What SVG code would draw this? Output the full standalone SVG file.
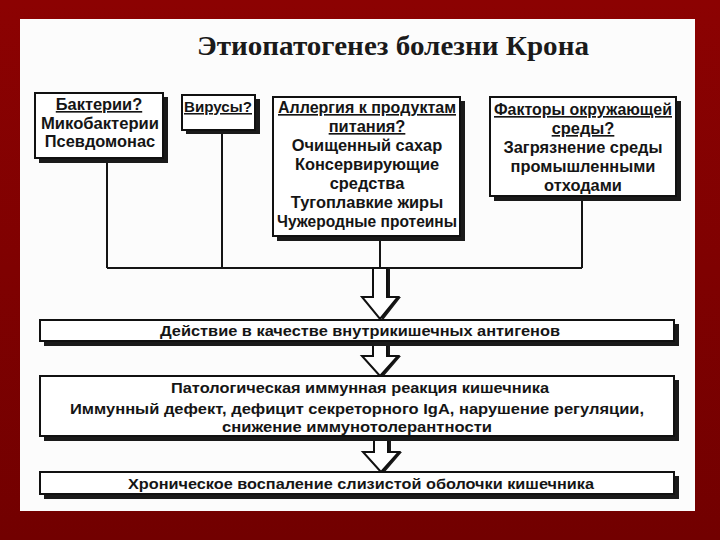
<svg xmlns="http://www.w3.org/2000/svg" width="720" height="540" viewBox="0 0 720 540">
<defs>
<linearGradient id="bg" x1="0" y1="0" x2="0" y2="1">
<stop offset="0" stop-color="#8c0202"/>
<stop offset="1" stop-color="#720000"/>
</linearGradient>
<style>
.box{fill:#fff;stroke:#111;stroke-width:2}
.sh{fill:#1a1a1a}
.t{font-family:"Liberation Sans",Arial,sans-serif;font-weight:bold;font-size:15.5px;fill:#151515;text-anchor:middle}
.b{font-size:16.4px}
.u{text-decoration:underline}
.ln{stroke:#151515;stroke-width:2;fill:none}
.title{font-family:"Liberation Serif","Times New Roman",serif;font-weight:bold;font-size:27px;fill:#1a1a1a;text-anchor:middle}
</style>
</defs>
<rect x="0" y="0" width="720" height="540" fill="url(#bg)"/>
<rect x="20" y="19" width="675" height="492" fill="#fcfcfc"/>
<text class="title" x="393" y="55" textLength="392" lengthAdjust="spacingAndGlyphs">Этиопатогенез болезни Крона</text>

<g id="connectors">
<path class="ln" d="M107 158V268M222 130V268M380 236V268M582 196V268M107 268H582"/>
<g id="arrow1">
<path class="sh" d="M376 268h14v29h11l-18 23l-18 -23h11z"/>
<path d="M373 268h14v29h11l-18 22l-18 -22h11z" fill="#fff" stroke="#111" stroke-width="2"/>
</g>
<g id="arrow2">
<path class="sh" d="M376 343h14v13h11l-18 21l-18 -21h11z"/>
<path d="M373 343h14v13h11l-18 20l-18 -20h11z" fill="#fff" stroke="#111" stroke-width="2"/>
</g>
<g id="arrow3">
<path class="sh" d="M377 437h14v15h11l-18 21l-18 -21h11z"/>
<path d="M374 437h14v15h11l-18 20l-18 -20h11z" fill="#fff" stroke="#111" stroke-width="2"/>
</g>
</g>

<g id="bacteria">
<rect class="sh" x="39" y="97" width="129" height="66"/>
<rect class="box" x="35" y="93" width="128" height="65"/>
<text class="t b u" x="99" y="110">Бактерии?</text>
<text class="t b" x="100" y="129" textLength="118" lengthAdjust="spacingAndGlyphs">Микобактерии</text>
<text class="t b" x="100" y="147">Псевдомонас</text>
</g>

<g id="viruses">
<rect class="sh" x="186" y="99" width="74" height="35"/>
<rect class="box" x="182" y="95" width="73" height="35"/>
<text class="t u" x="218" y="112" textLength="68" lengthAdjust="spacingAndGlyphs">Вирусы?</text>
</g>

<g id="allergy">
<rect class="sh" x="277" y="101" width="188" height="140"/>
<rect class="box" x="273" y="97" width="187" height="139"/>
<text class="t b u" x="367" y="113" textLength="178" lengthAdjust="spacingAndGlyphs">Аллергия к продуктам</text>
<text class="t b u" x="367" y="132">питания?</text>
<text class="t b" x="367" y="151">Очищенный сахар</text>
<text class="t b" x="367" y="170">Консервирующие</text>
<text class="t b" x="367" y="189">средства</text>
<text class="t b" x="367" y="208">Тугоплавкие жиры</text>
<text class="t b" x="367" y="227" textLength="180" lengthAdjust="spacingAndGlyphs">Чужеродные протеины</text>
</g>

<g id="environment">
<rect class="sh" x="494" y="101" width="187" height="100"/>
<rect class="box" x="490" y="97" width="186" height="99"/>
<text class="t b u" x="583" y="115" textLength="178" lengthAdjust="spacingAndGlyphs">Факторы окружающей</text>
<text class="t b u" x="583" y="134">среды?</text>
<text class="t b" x="583" y="153">Загрязнение среды</text>
<text class="t b" x="583" y="172">промышленными</text>
<text class="t b" x="583" y="191">отходами</text>
</g>

<g id="antigens">
<rect class="sh" x="44" y="324" width="635" height="22"/>
<rect class="box" x="40" y="320" width="634" height="21"/>
<text class="t" x="360" y="336" textLength="400" lengthAdjust="spacingAndGlyphs">Действие в качестве внутрикишечных антигенов</text>
</g>

<g id="immune">
<rect class="sh" x="44" y="380" width="635" height="61"/>
<rect class="box" x="40" y="376" width="634" height="60"/>
<text class="t" x="360" y="393" textLength="378" lengthAdjust="spacingAndGlyphs">Патологическая иммунная реакция кишечника</text>
<text class="t" x="357" y="414" textLength="574" lengthAdjust="spacingAndGlyphs">Иммунный дефект, дефицит секреторного IgA, нарушение регуляции,</text>
<text class="t" x="357" y="432" textLength="270" lengthAdjust="spacingAndGlyphs">снижение иммунотолерантности</text>
</g>

<g id="inflammation">
<rect class="sh" x="44" y="476" width="635" height="23"/>
<rect class="box" x="40" y="472" width="634" height="22"/>
<text class="t" x="361" y="489" textLength="466" lengthAdjust="spacingAndGlyphs">Хроническое воспаление слизистой оболочки кишечника</text>
</g>
</svg>
